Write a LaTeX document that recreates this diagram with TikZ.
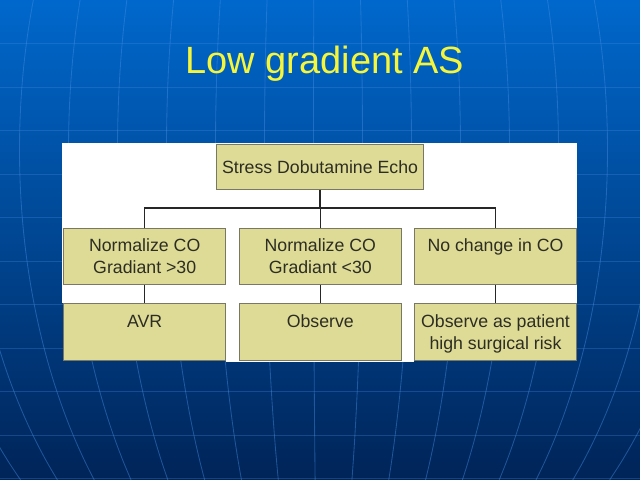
\documentclass[tikz,border=0pt]{standalone}
\usepackage{fontspec}
\setmainfont{Liberation Sans}
\definecolor{bgtop}{RGB}{0,104,204}
\definecolor{bgmid}{RGB}{0,74,158}
\definecolor{bgbot}{RGB}{0,36,88}
\definecolor{gridblue}{RGB}{70,140,225}
\definecolor{titleyellow}{RGB}{245,245,60}
\definecolor{boxfill}{RGB}{221,219,150}
\definecolor{boxline}{RGB}{120,120,100}
\definecolor{boxtext}{RGB}{45,45,35}
\newcommand{\toptext}[2]{\parbox[c][#1][t]{3.9cm}{\centering #2}}

\begin{document}
\begin{tikzpicture}[x=0.025cm,y=-0.025cm,
    box/.style={draw=boxline,line width=0.7pt,fill=boxfill,text=boxtext,inner sep=0pt,anchor=north west,font=\fontsize{12.6}{15.7}\selectfont},
    link/.style={draw=black!85,line width=0.9pt},
    grid/.style={draw=gridblue,line width=0.6pt,opacity=0.45}]
        \useasboundingbox (0,0) rectangle (640,480);
        \shade[top color=bgtop,middle color=bgmid,bottom color=bgbot](0,0) rectangle (640,480);

        % globe lines
        \begin{scope}
            \clip (0,0) rectangle (640,480);
            \foreach \n in {-8,...,8}
                \draw[grid] plot[smooth,domain=0:480,samples=30]({320+(49*\n-6.5)*sqrt(1-((\x-150)/500)^2)},\x);
            \foreach \yy in {43.5,87,...,480}
                \draw[grid,opacity=0.3](0,\yy)--(640,\yy);
        \end{scope}

        \node[anchor=base,text=titleyellow,font=\fontsize{27}{32}\selectfont](title)at(325,73){Low gradient AS};

        \fill[white](62,143) rectangle (577,303);
        \fill[white](226,290) rectangle (414,362);

        \node[box,minimum width=5.175cm,minimum height=1.125cm](sde)at(216,144){Stress Dobutamine Echo};

        \node[box,minimum width=4.06cm,minimum height=1.4cm](co1)at(63,228){\toptext{0.9cm}{Normalize CO\\Gradiant >30}};
        \node[box,minimum width=4.04cm,minimum height=1.4cm](co2)at(239,228){\toptext{0.9cm}{Normalize CO\\Gradiant <30}};
        \node[box,minimum width=4.05cm,minimum height=1.4cm](co3)at(414,228){\toptext{0.9cm}{No change in CO}};

        \node[box,minimum width=4.06cm,minimum height=1.425cm](avr)at(63,303){\toptext{0.85cm}{AVR}};
        \node[box,minimum width=4.04cm,minimum height=1.425cm](obs)at(239,303){\toptext{0.85cm}{Observe}};
        \node[box,minimum width=4.05cm,minimum height=1.425cm](risk)at(414,303){\toptext{0.85cm}{Observe as patient\\high surgical risk}};

        \coordinate(bar)at(319,208);
        \draw[link](sde.south)--(sde.south|-bar);
        \draw[link](co1.north)--(co1.north|-bar)--(co3.north|-bar)--(co3.north);
        \draw[link](co2.north)--(co2.north|-bar);
        \draw[link](co1.south)--(avr.north);
        \draw[link](co2.south)--(obs.north);
        \draw[link](co3.south)--(risk.north);
    \end{tikzpicture}
\end{document}
